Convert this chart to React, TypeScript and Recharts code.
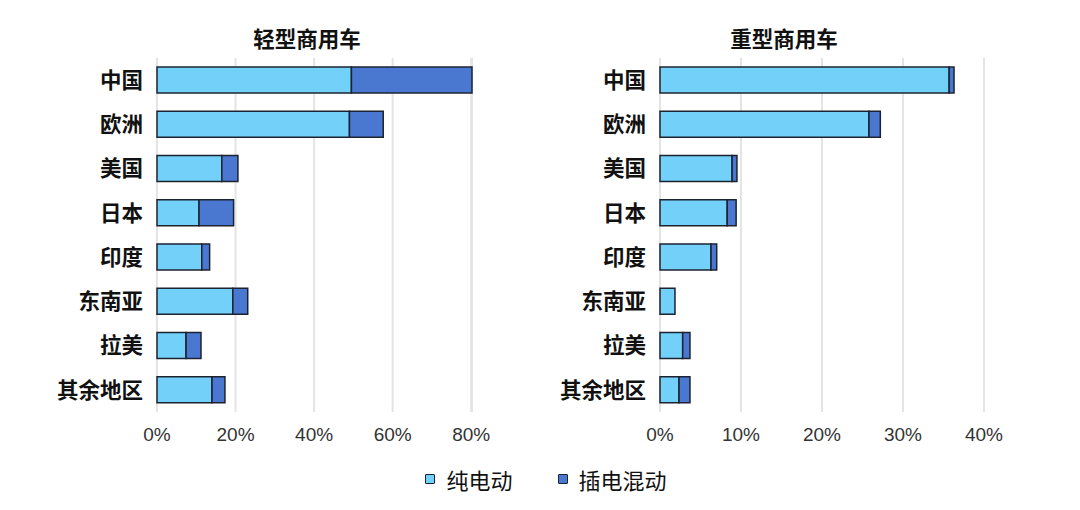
import { BarChart, Bar, XAxis, YAxis, CartesianGrid } from "recharts";

const regions = ["中国", "欧洲", "美国", "日本", "印度", "东南亚", "拉美", "其余地区"];

// 轻型商用车 (%)
const lightBev = [49.5, 49.0, 16.5, 10.7, 11.4, 19.3, 7.4, 14.0];
const lightPhev = [30.7, 8.6, 4.1, 8.8, 2.0, 3.8, 3.8, 3.3];
const lightTicks = [0, 20, 40, 60, 80];

// 重型商用车 (%)
const heavyBev = [35.7, 25.8, 8.9, 8.3, 6.3, 1.85, 2.8, 2.35];
const heavyPhev = [0.6, 1.4, 0.6, 1.1, 0.7, 0, 0.9, 1.35];
const heavyTicks = [0, 10, 20, 30, 40];

const COLOR_BEV = "#72d0f9";
const COLOR_PHEV = "#4a78d0";
const STROKE = "#1c2330";
const FONT = "'Liberation Sans', 'Noto Sans CJK SC', sans-serif";
const CJK = "'Noto Sans CJK SC', sans-serif";

function Panel({
  bev,
  phev,
  ticks,
  yWidth,
  right,
}: {
  bev: number[];
  phev: number[];
  ticks: number[];
  yWidth: number;
  right: number;
}) {
  const data = regions.map((r, i) => ({ region: r, bev: bev[i], phev: phev[i] }));
  return (
    <BarChart
      width={540}
      height={510}
      layout="vertical"
      data={data}
      margin={{ top: 58, right, bottom: 68, left: 0 }}
      barCategoryGap={18}
    >
      <CartesianGrid horizontal={false} stroke="#e4e4e4" strokeWidth={2} />
      <XAxis
        type="number"
        domain={[ticks[0], ticks[ticks.length - 1]]}
        ticks={ticks}
        tickFormatter={(v) => `${v}%`}
        axisLine={false}
        tickLine={false}
        tickSize={0}
        tickMargin={16}
        height={30}
        tick={{ fontSize: 19, fill: "#333", fontFamily: FONT }}
      />
      <YAxis
        type="category"
        dataKey="region"
        width={yWidth}
        axisLine={false}
        tickLine={false}
        tickSize={0}
        tickMargin={14}
        tick={{ fontSize: 21.5, fill: "#111", fontWeight: 700, fontFamily: CJK }}
      />
      <Bar dataKey="bev" stackId="a" fill={COLOR_BEV} stroke={STROKE} strokeWidth={1.5} barSize={26} isAnimationActive={false} />
      <Bar dataKey="phev" stackId="a" fill={COLOR_PHEV} stroke={STROKE} strokeWidth={1.5} barSize={26} isAnimationActive={false} />
    </BarChart>
  );
}

function LegendItem({ color, label }: { color: string; label: string }) {
  return (
    <div style={{ display: "flex", alignItems: "center", gap: 11 }}>
      <div style={{ width: 8, height: 8, background: color, border: `1.5px solid ${STROKE}`, borderRadius: 1 }} />
      <span style={{ fontSize: 22, color: "#111", fontFamily: CJK }}>{label}</span>
    </div>
  );
}

const titleStyle = {
  position: "absolute" as const,
  width: 200,
  top: 22,
  textAlign: "center" as const,
  fontSize: 21.5,
  fontWeight: 700,
  color: "#111",
  fontFamily: CJK,
};

export default function App() {
  return (
    <div style={{ position: "absolute", left: 0, top: 0, width: 1080, height: 510, background: "#fff", fontFamily: FONT }}>
      <div style={{ position: "absolute", left: 0, top: 0 }}>
        <Panel bev={lightBev} phev={lightPhev} ticks={lightTicks} yWidth={157} right={68} />
      </div>
      <div style={{ position: "absolute", left: 540, top: 0 }}>
        <Panel bev={heavyBev} phev={heavyPhev} ticks={heavyTicks} yWidth={120} right={96} />
      </div>
      <div style={{ ...titleStyle, left: 207 }}>轻型商用车</div>
      <div style={{ ...titleStyle, left: 684 }}>重型商用车</div>
      <div
        style={{
          position: "absolute",
          left: 12,
          width: 1068,
          top: 463,
          display: "flex",
          justifyContent: "center",
          gap: 45,
        }}
      >
        <LegendItem color={COLOR_BEV} label="纯电动" />
        <LegendItem color={COLOR_PHEV} label="插电混动" />
      </div>
    </div>
  );
}
